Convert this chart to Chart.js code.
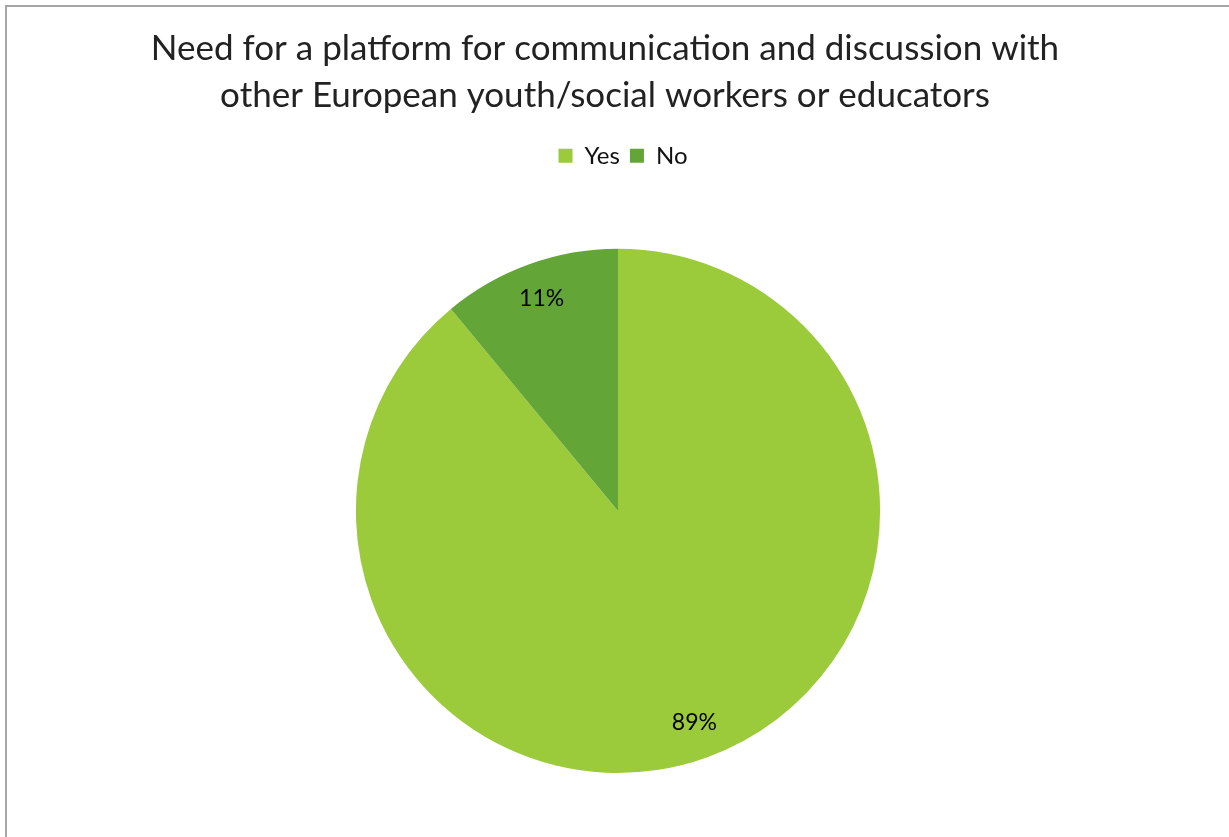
<!DOCTYPE html>
<html>
<head>
<meta charset="utf-8">
<script src="https://cdn.jsdelivr.net/npm/chart.js@4.4.1/dist/chart.umd.min.js"></script>
<style>
  html, body { margin: 0; padding: 0; background: #fff; overflow: hidden; }
  #wrap { position: relative; width: 1229px; height: 837px; }
  #frame {
    position: absolute; left: 5px; top: 5px;
    width: 1300px; height: 900px;
    border-top: 2px solid #a6a6a6; border-left: 2px solid #a6a6a6;
    pointer-events: none;
  }
  canvas { position: absolute; left: 0; top: 0; }
</style>
</head>
<body>
<div id="wrap">
  <canvas id="needChart" width="1229" height="837"></canvas>
  <div id="frame"></div>
</div>
<script>
const titleLines = [
    'Need for a platform for communication and discussion with',
    'other European youth/social workers or educators'
];
const answers = ['Yes', 'No'];
const shares = [89, 11];
const sliceColours = ['#9bcb3b', '#63a537'];

const fontFamily = "Lato, 'Open Sans', sans-serif";

// legend gets extra room below it, and an empty box on the left nudges the pie right
const layoutTweaks = {
    id: 'layoutTweaks',
    beforeInit(chart) {
        const fit = chart.legend.fit;
        chart.legend.fit = function () {
            fit.call(chart.legend);
            this.height += 71;
        };
        Chart.layouts.addBox(chart, {
            position: 'left',
            weight: 0,
            fullSize: false,
            options: {},
            update(maxWidth, maxHeight) {
                this.width = 26;
                this.height = maxHeight;
            },
            isHorizontal() { return false; },
            draw() {}
        });
    },
    afterLayout(chart) {
        chart.legend.left += 18;
        chart.legend.right += 18;
    }
};

// percentage labels inside each slice
const sliceLabels = {
    id: 'sliceLabels',
    afterDatasetsDraw(chart) {
        const ctx = chart.ctx;
        const meta = chart.getDatasetMeta(0);
        const values = chart.data.datasets[0].data;
        ctx.save();
        ctx.font = '23px ' + fontFamily;
        ctx.fillStyle = '#000';
        ctx.textAlign = 'center';
        ctx.textBaseline = 'middle';
        meta.data.forEach((arc, i) => {
            const p = arc.getProps(['x', 'y', 'startAngle', 'endAngle', 'outerRadius'], true);
            const mid = (p.startAngle + p.endAngle) / 2;
            const r = p.outerRadius * 0.86;
            ctx.fillText(values[i] + '%', p.x + Math.cos(mid) * r, p.y + Math.sin(mid) * r);
        });
        ctx.restore();
    }
};

const needChart = new Chart(document.getElementById('needChart'), {
    type: 'pie',
    data: {
        labels: answers,
        datasets: [{
            data: shares,
            backgroundColor: sliceColours,
            borderWidth: 0
        }]
    },
    options: {
        responsive: false,
        animation: false,
        layout: {
            padding: { top: 0, left: 0, right: 19, bottom: 64 }
        },
        plugins: {
            title: {
                display: true,
                text: titleLines,
                color: '#222',
                font: { family: fontFamily, size: 35, weight: 'normal', lineHeight: 1.34 },
                padding: { top: 25, bottom: 15 }
            },
            legend: {
                display: true,
                position: 'top',
                labels: {
                    color: '#111',
                    font: { family: fontFamily, size: 24 },
                    boxWidth: 14,
                    boxHeight: 14,
                    padding: 10
                }
            },
            tooltip: { enabled: false }
        }
    },
    plugins: [layoutTweaks, sliceLabels]
});
</script>
</body>
</html>
